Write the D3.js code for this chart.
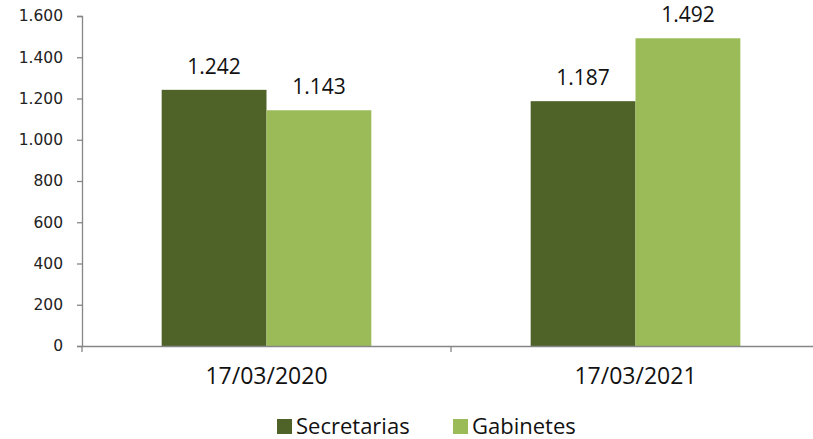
<!DOCTYPE html>
<html>
<head>
	<meta charset="utf-8">
	<title>Secretarias / Gabinetes</title>
	<style>
		body { margin: 0; background: #fff; }
		svg { display: block; }
	</style>
</head>
<body onload="init()">
	<svg width="813" height="439"></svg>
</body>
<script src="https://cdn.jsdelivr.net/npm/d3@7"></script>
<script>
	// datos
	const categorias = ["17/03/2020", "17/03/2021"]
	const series = ["Secretarias", "Gabinetes"]
	const secretarias = [1242, 1187]
	const gabinetes = [1143, 1492]
	const yTicks = [0, 200, 400, 600, 800, 1000, 1200, 1400, 1600]
	const colores = ["#4f6228", "#9bbb59"]

	function init() {
		let svg = d3.select("svg")

		// formato con punto de miles
		let loc = d3.formatLocale({decimal: ",", thousands: ".", grouping: [3], currency: ["", ""]})
		let fmt = loc.format(",d")

		// escalas
		let x0 = d3.scaleBand().domain(categorias).range([82, 820]).padding(0)
		let x1 = d3.scaleBand().domain(series).range([0, x0.bandwidth()])
			.paddingInner(0).paddingOuter(0.76)
		let y = d3.scaleLinear().domain([0, 1600]).range([346, 16])
		let color = d3.scaleOrdinal().domain(series).range(colores)

		let filas = categorias.map((c, i) => ({cat: c, vals: [
			{s: series[0], v: secretarias[i]},
			{s: series[1], v: gabinetes[i]}
		]}))

		// eje Y
		let gy = svg.append("g")
			.attr("transform", "translate(82,0)")
			.call(d3.axisLeft(y).tickValues(yTicks).tickFormat(fmt).tickSize(5).tickPadding(14))
		gy.select(".domain").attr("stroke", "#868686").attr("stroke-width", 1.3)
		gy.selectAll(".tick line").attr("stroke", "#868686").attr("stroke-width", 1.3)
		gy.selectAll("text")
			.attr("font-family", "DejaVu Sans").attr("font-size", 15.5).attr("fill", "#222")

		// barras
		let grupos = svg.append("g").selectAll("g").data(filas).join("g")
			.attr("transform", d => `translate(${x0(d.cat)},0)`)
		grupos.selectAll("rect").data(d => d.vals).join("rect")
			.attr("x", d => x1(d.s))
			.attr("width", x1.bandwidth())
			.attr("y", d => y(d.v))
			.attr("height", d => y(0) - y(d.v))
			.attr("fill", d => color(d.s))
		grupos.selectAll("text").data(d => d.vals).join("text")
			.attr("x", d => x1(d.s) + x1.bandwidth() / 2)
			.attr("y", d => y(d.v) - 16)
			.attr("text-anchor", "middle")
			.attr("font-family", "Open Sans").attr("font-size", 21).attr("fill", "#111")
			.text(d => fmt(d.v))

		// eje X
		let gx = svg.append("g")
			.attr("transform", "translate(0,346)")
			.call(d3.axisBottom(x0).tickSize(0).tickPadding(22))
		gx.select(".domain").attr("stroke", "#868686").attr("stroke-width", 1.3)
		gx.selectAll("text")
			.attr("font-family", "Open Sans").attr("font-size", 23).attr("fill", "#111")
		// marcas en los limites de cada categoria
		let limites = categorias.map(c => x0(c)).concat([x0.range()[1]])
		gx.selectAll(".limite").data(limites).join("line")
			.attr("class", "limite")
			.attr("x1", d => d).attr("x2", d => d)
			.attr("y1", 0).attr("y2", 6)
			.attr("stroke", "#868686").attr("stroke-width", 1.3)

		// leyenda
		let leyX = [277, 453]
		let ley = svg.append("g").selectAll("g").data(series).join("g")
			.attr("transform", (d, i) => `translate(${leyX[i]},419)`)
		ley.append("rect")
			.attr("width", 15).attr("height", 15)
			.attr("fill", d => color(d))
		ley.append("text")
			.attr("x", 19).attr("y", 15)
			.attr("font-family", "Open Sans").attr("font-size", 22).attr("fill", "#111")
			.text(d => d)
	}
</script>
</html>
